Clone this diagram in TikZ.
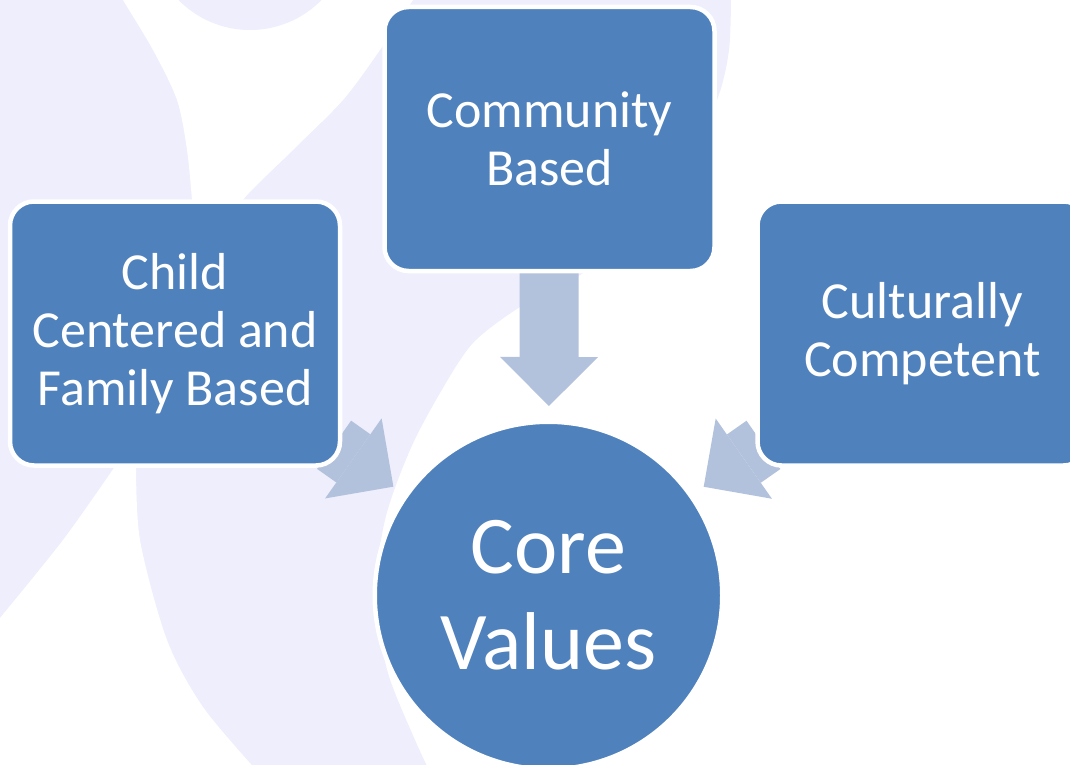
\documentclass[tikz,border=0pt]{standalone}
\usepackage{fontspec}
\setmainfont{Carlito}
\usetikzlibrary{arrows.meta, positioning}
\definecolor{valueblue}{RGB}{79,129,189}
\definecolor{linkblue}{RGB}{178,193,220}
\definecolor{wmark}{RGB}{238,238,252}
\pgfdeclarelayer{watermark}
\pgfdeclarelayer{links}
\pgfsetlayers{watermark,links,main}

\begin{document}
\begin{tikzpicture}[x=1pt, y=-1pt,
    value/.style={rectangle, rounded corners=24pt, fill=valueblue, draw=white, line width=4.5pt,
        minimum width=330pt, minimum height=264pt, inner sep=0pt, text=white, align=center,
        font=\fontsize{52}{58}\selectfont},
    core/.style={circle, fill=valueblue, draw=white, line width=4.5pt, minimum size=347.5pt,
        inner sep=0pt, text=white, align=center, font=\fontsize{82}{96}\selectfont},
    link/.style={color=linkblue, line width=59pt,
        -{Triangle[width=98pt, length=49pt, line width=0pt]}, shorten >=13.5pt, shorten <=-10pt}]
    \useasboundingbox (0,0) rectangle (1070,765);

    %define the value boxes
    \node[value] (child) at (175,333.5) {Child\\Centered and\\Family Based};
    \node[value] (community) at (549.5,139) {Community\\Based};
    \node[value] (cultural) at (922.5,333.5) {Culturally\\Competent};
    \node[core] (core) at (548.5,595.5) {Core\\Values};

    %define the links
    \begin{pgfonlayer}{links}
        \path[link] (child) edge (core)
                    (community) edge (core)
                    (cultural) edge (core);
    \end{pgfonlayer}

    %watermark behind everything
    \begin{pgfonlayer}{watermark}
        \fill[wmark] (0,-5) -- plot[smooth] coordinates {(731,-5) (729,50) (717,100) (680,180)
            (620,245) (560,288) (520,307) (473,343) (440,393) (410,450) (385,520) (375,600)
            (388,673) (415,740) (430,772)} -- (0,772) -- cycle;
        \fill[white] plot[smooth] coordinates {(118,-10) (123,0) (153,50) (177,100) (187,150)
            (192,200) (193,220)} -- plot[smooth] coordinates {(243,220) (243,200) (293,150)
            (343,100) (380,50) (413,0) (420,-10)} -- cycle;
        \fill[wmark] (250,-70) circle[radius=100pt];
        \fill[white] plot[smooth] coordinates {(-5,624) (63,540) (118,462)} --
            plot[smooth] coordinates {(136,462) (140,540) (167,640) (203,707) (258,772)}
            -- (-5,772) -- cycle;
    \end{pgfonlayer}
\end{tikzpicture}
\end{document}
